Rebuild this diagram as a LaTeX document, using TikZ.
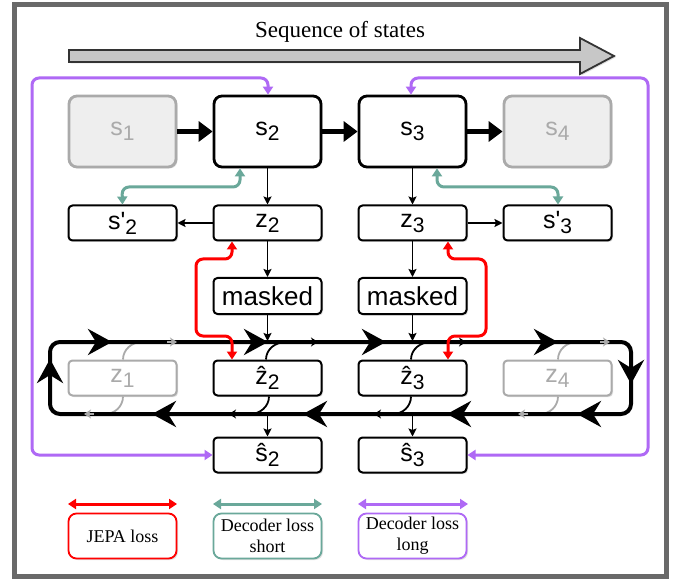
\documentclass[tikz,border=0pt]{standalone}
\usepackage{fontspec}
\setmainfont{Liberation Serif}
\newfontfamily\labfont{Liberation Sans}
\usetikzlibrary{arrows.meta,shadows}
\definecolor{jred}{RGB}{255,0,0}
\definecolor{dteal}{RGB}{106,168,154}
\definecolor{dpurp}{RGB}{175,105,245}
\definecolor{framegray}{RGB}{105,105,105}
\definecolor{ghostgray}{RGB}{170,170,170}
\definecolor{ghostfill}{RGB}{238,238,238}
\newcommand\lbl[2]{#1\raisebox{-0.2em}{\fontsize{21}{21}\selectfont #2}}
\tikzset{
  shadowed/.style={drop shadow={shadow xshift=1.5pt,shadow yshift=-1.5pt,opacity=0.25}},
  bigbox/.style={draw=black,line width=2.8pt,rounded corners=8pt,fill=white,
    minimum width=107pt,minimum height=71pt,inner sep=0pt,
    font=\labfont\fontsize{25}{25}\selectfont,shadowed},
  ghostbig/.style={bigbox,draw=ghostgray,fill=ghostfill,text=ghostgray},
  smallbox/.style={draw=black,line width=2pt,rounded corners=4pt,fill=white,
    minimum width=108pt,minimum height=35pt,inner sep=0pt,
    font=\labfont\fontsize{25}{25}\selectfont,shadowed},
  ghostsmall/.style={smallbox,draw=ghostgray,text=ghostgray},
  legbox/.style={draw,line width=1.8pt,rounded corners=8pt,fill=white,
    minimum width=108pt,minimum height=45pt,inner sep=0pt,align=center,
    font=\fontsize{18}{21}\selectfont,shadowed},
  thickarr/.style={line width=5pt,-{Triangle[length=14pt,width=20pt]}},
  thinarr/.style={line width=1.8pt,-{Stealth[length=8pt,width=8pt,inset=1.5pt]}},
  jepa/.style={draw=jred,line width=3pt,rounded corners=7pt,
    {Triangle[length=8pt,width=10pt]}-{Triangle[length=8pt,width=10pt]}},
  decshort/.style={jepa,draw=dteal},
  declong/.style={jepa,draw=dpurp},
  looptip/.style={line width=4pt,-{Stealth[length=24pt,width=26pt,inset=8pt]}},
  smalltip/.style={line width=1.5pt,-{Stealth[length=7pt,width=9pt,inset=2pt]}},
}
\begin{document}
\begin{tikzpicture}[x=1pt,y=-1pt]
\useasboundingbox (0,0) rectangle (681,583);
\fill[white] (0,0) rectangle (681,583);
% frame
\fill[black,opacity=0.15] (17,9) rectangle (669,579);
\draw[framegray,line width=5pt,fill=white] (14,5) rectangle (666,576);
% title and sequence arrow
\node[font=\fontsize{23}{23}\selectfont] (title) at (340,32) {Sequence of states};
\draw[line width=1.8pt,draw=black!80,fill=black!22,shadowed]
  (69,50) -- (580,50) -- (580,38) -- (614,56) -- (580,74) -- (580,62) -- (69,62) -- cycle;
% state row
\node[ghostbig] (s1) at (122.5,131.5) {\lbl{s}{1}};
\node[bigbox]   (s2) at (267.5,131.5) {\lbl{s}{2}};
\node[bigbox]   (s3) at (412.5,131.5) {\lbl{s}{3}};
\node[ghostbig] (s4) at (557.5,131.5) {\lbl{s}{4}};
\draw[thickarr] (s1) -- (s2);
\draw[thickarr] (s2) -- (s3);
\draw[thickarr] (s3) -- (s4);
% z row
\node[smallbox] (sp2) at (122.5,223) {\lbl{s\textquotesingle}{2}};
\node[smallbox] (z2)  at (267.5,223) {\lbl{z}{2}};
\node[smallbox] (z3)  at (412.5,223) {\lbl{z}{3}};
\node[smallbox] (sp3) at (557.5,223) {\lbl{s\textquotesingle}{3}};
\draw[thinarr] (s2) -- (z2);
\draw[thinarr] (s3) -- (z3);
\draw[thinarr] (z2) -- (sp2);
\draw[thinarr] (z3) -- (sp3);
% masked
\node[smallbox,minimum height=36pt,font=\labfont\fontsize{26}{26}\selectfont] (m2) at (267.5,296) {masked};
\node[smallbox,minimum height=36pt,font=\labfont\fontsize{26}{26}\selectfont] (m3) at (412.5,296) {masked};
\draw[thinarr] (z2) -- (m2);
\draw[thinarr] (z3) -- (m3);
% predicted latent row
\node[ghostsmall] (z1)  at (122.5,378) {\lbl{z}{1}};
\node[smallbox]   (zh2) at (267.5,378) {\lbl{\^z}{2}};
\node[smallbox]   (zh3) at (412.5,378) {\lbl{\^z}{3}};
\node[ghostsmall] (z4)  at (557.5,378) {\lbl{z}{4}};
% curves from boxes into loop (under loop)
\draw[line width=1.8pt,ghostgray] ([xshift=0.5pt]z1.north) to[out=90,in=180] (142,342);
\draw[line width=1.8pt,ghostgray] ([xshift=0.5pt]z1.south) to[out=-90,in=0] (105,414);
\draw[line width=1.8pt,ghostgray] ([xshift=0.5pt]z4.north) to[out=90,in=180] (577,342);
\draw[line width=1.8pt,ghostgray] ([xshift=0.5pt]z4.south) to[out=-90,in=0] (540,414);
\draw[line width=1.8pt] ([xshift=-1.5pt]zh2.north) to[out=90,in=180] (286,342);
\draw[line width=1.8pt] ([xshift=1.5pt]zh2.south) to[out=-90,in=0] (250,414);
\draw[line width=1.8pt] ([xshift=-1.5pt]zh3.north) to[out=90,in=180] (431,342);
\draw[line width=1.8pt] ([xshift=-1.5pt]zh3.south) to[out=-90,in=0] (393,414);
% recurrent loop
\draw[line width=4pt,rounded corners=10pt] (50,342) rectangle (631,414);
\foreach \x in {112,268,386,558} {\draw[looptip] (\x-26,342) -- (\x,342);}
\foreach \x in {577,447,303,152} {\draw[looptip] (\x+26,414) -- (\x,414);}
\draw[looptip] (631,358) -- (631,384);
\draw[looptip] (50,385) -- (50,359);
\foreach \x in {177,610} {\draw[smalltip,ghostgray] (\x-10,342) -- (\x,342);}
\foreach \x in {84,518} {\draw[smalltip,ghostgray] (\x+10,414) -- (\x,414);}
\foreach \x in {318,466} {\draw[smalltip] (\x-10,342) -- (\x,342);}
\foreach \x in {229,374} {\draw[smalltip] (\x+10,414) -- (\x,414);}
% masked into loop
\coordinate (t2) at (267.5,341);
\coordinate (t3) at (412.5,341);
\draw[thinarr] (m2) -- (t2);
\draw[thinarr] (m3) -- (t3);
% decoded row
\node[smallbox] (sh2) at (267.5,455) {\lbl{\^s}{2}};
\node[smallbox] (sh3) at (412.5,455) {\lbl{\^s}{3}};
\coordinate (b2) at (267.5,416);
\coordinate (b3) at (412.5,416);
\draw[thinarr] (b2) -- (sh2);
\draw[thinarr] (b3) -- (sh3);
% JEPA loss connectors
\draw[jepa] ([xshift=-35.5pt]zh2.north) -- (232,336) -- (196,336) -- (196,259) -- (232,259) -- ([xshift=-35.5pt]z2.south);
\draw[jepa] ([xshift=35.5pt]zh3.north) -- (448,336) -- (486,336) -- (486,259) -- (448,259) -- ([xshift=35.5pt]z3.south);
% short decoder loss
\draw[decshort] ([xshift=-27.5pt]s2.south) -- (240,187) -- (122,187) -- (sp2.north);
\draw[decshort] ([xshift=24.5pt]s3.south) -- (437,187) -- (558,187) -- ([xshift=0.5pt]sp3.north);
% long decoder loss
\draw[declong] ([xshift=0.5pt]s2.north) -- (268,78) -- (32,78) -- (32,455) -- (sh2.west);
\draw[declong] ([xshift=-1.5pt]s3.north) -- (411,78) -- (648,78) -- (648,455) -- (sh3.east);
% legend
\coordinate (l1a) at (68,504); \coordinate (l1b) at (177,504);
\coordinate (l2a) at (213,504); \coordinate (l2b) at (322,504);
\coordinate (l3a) at (358,504); \coordinate (l3b) at (468,504);
\draw[jepa] (l1a) -- (l1b);
\draw[decshort] (l2a) -- (l2b);
\draw[declong] (l3a) -- (l3b);
\node[legbox,draw=jred]  (k1) at (122.5,536) {JEPA loss};
\node[legbox,draw=dteal] (k2) at (267.5,536) {Decoder loss\\short};
\node[legbox,draw=dpurp] (k3) at (412.5,536) {Decoder loss\\long};
\end{tikzpicture}
\end{document}
